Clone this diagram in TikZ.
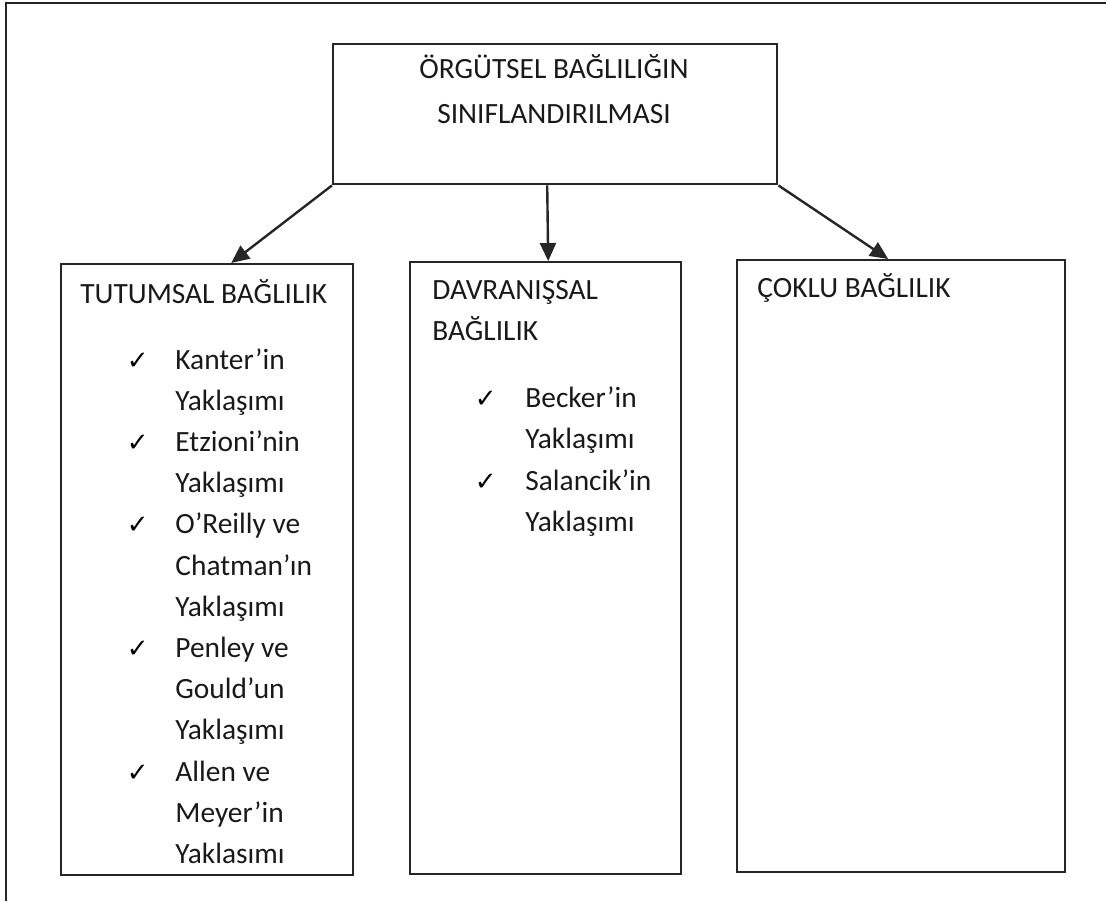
\documentclass[tikz,border=0pt]{standalone}
\usepackage{fontspec}
\setmainfont{Carlito}
\newfontfamily\tickfont{DejaVu Sans}
\usetikzlibrary{arrows.meta, positioning}
\tikzset{
  frame/.style = {draw=black!85, line width=1.2pt},
  box/.style = {rectangle, draw=black!85, line width=1.2pt, inner sep=0pt, anchor=north west},
  head/.style = {inner sep=0pt, text=black!90, font=\fontsize{14.7}{20.5}\selectfont},
  item/.style = {head, anchor=base west},
  tick/.style = {inner sep=0pt, anchor=base east, text=black, font=\tickfont\fontsize{13}{16}\selectfont},
  link/.style = {-{Triangle[length=9pt,width=8pt]}, draw=black!85, line width=1.2pt}
}
\begin{document}
\begin{tikzpicture}[x=0.5pt,y=-0.5pt]
  \useasboundingbox (0,0) rectangle (1106,901);
  % outer frame (only top and left edges show)
  \draw[frame] (1106,3) -- (6,3) -- (6,901);

  % boxes
  \node[box, minimum width=222pt, minimum height=70pt] (title) at (332,43) {};
  \node[box, minimum width=146pt, minimum height=305.5pt] (att) at (60,263) {};
  \node[box, minimum width=135.5pt, minimum height=306pt] (beh) at (409,261) {};
  \node[box, minimum width=164pt, minimum height=306pt] (multi) at (736,259) {};

  % headings (base = last line)
  \node[head, align=center, anchor=base, font=\fontsize{14.7}{22.5}\selectfont] (titletxt) at (554,123)
    {ÖRGÜTSEL BAĞLILIĞIN\\SINIFLANDIRILMASI};
  \node[item] (atthead) at (80,303) {TUTUMSAL BAĞLILIK};
  \node[item, align=left] (behhead) at (432,340) {DAVRANIŞSAL\\BAĞLILIK};
  \node[item] (multihead) at (757,297) {ÇOKLU BAĞLILIK};

  % lists
  \foreach \txt [count=\i] in {Kanter’in, Yaklaşımı, Etzioni’nin, Yaklaşımı, O’Reilly ve,
      Chatman’ın, Yaklaşımı, Penley ve, Gould’un, Yaklaşımı, Allen ve, Meyer’in, Yaklasımı}
    \node[item] (att\i) at (175,{369+41.2*(\i-1)}) {\txt};
  \foreach \i in {1,3,5,8,11}
    \node[tick] (attck\i) at ([xshift=-13pt]att\i.base west) {✓};

  \foreach \txt [count=\i] in {Becker’in, Yaklaşımı, Salancik’in, Yaklaşımı}
    \node[item] (beh\i) at (525,{407+41.5*(\i-1)}) {\txt};
  \foreach \i in {1,3}
    \node[tick] (behck\i) at ([xshift=-14pt]beh\i.base west) {✓};

  % arrows
  \draw[link] (title.south west) -- ([xshift=12pt]att.north);
  \draw[link] ([xshift=-4pt]title.south) -- ([xshift=1.25pt]beh.north);
  \draw[link] (title.south east) -- ([xshift=-6.5pt]multi.north);
\end{tikzpicture}
\end{document}
